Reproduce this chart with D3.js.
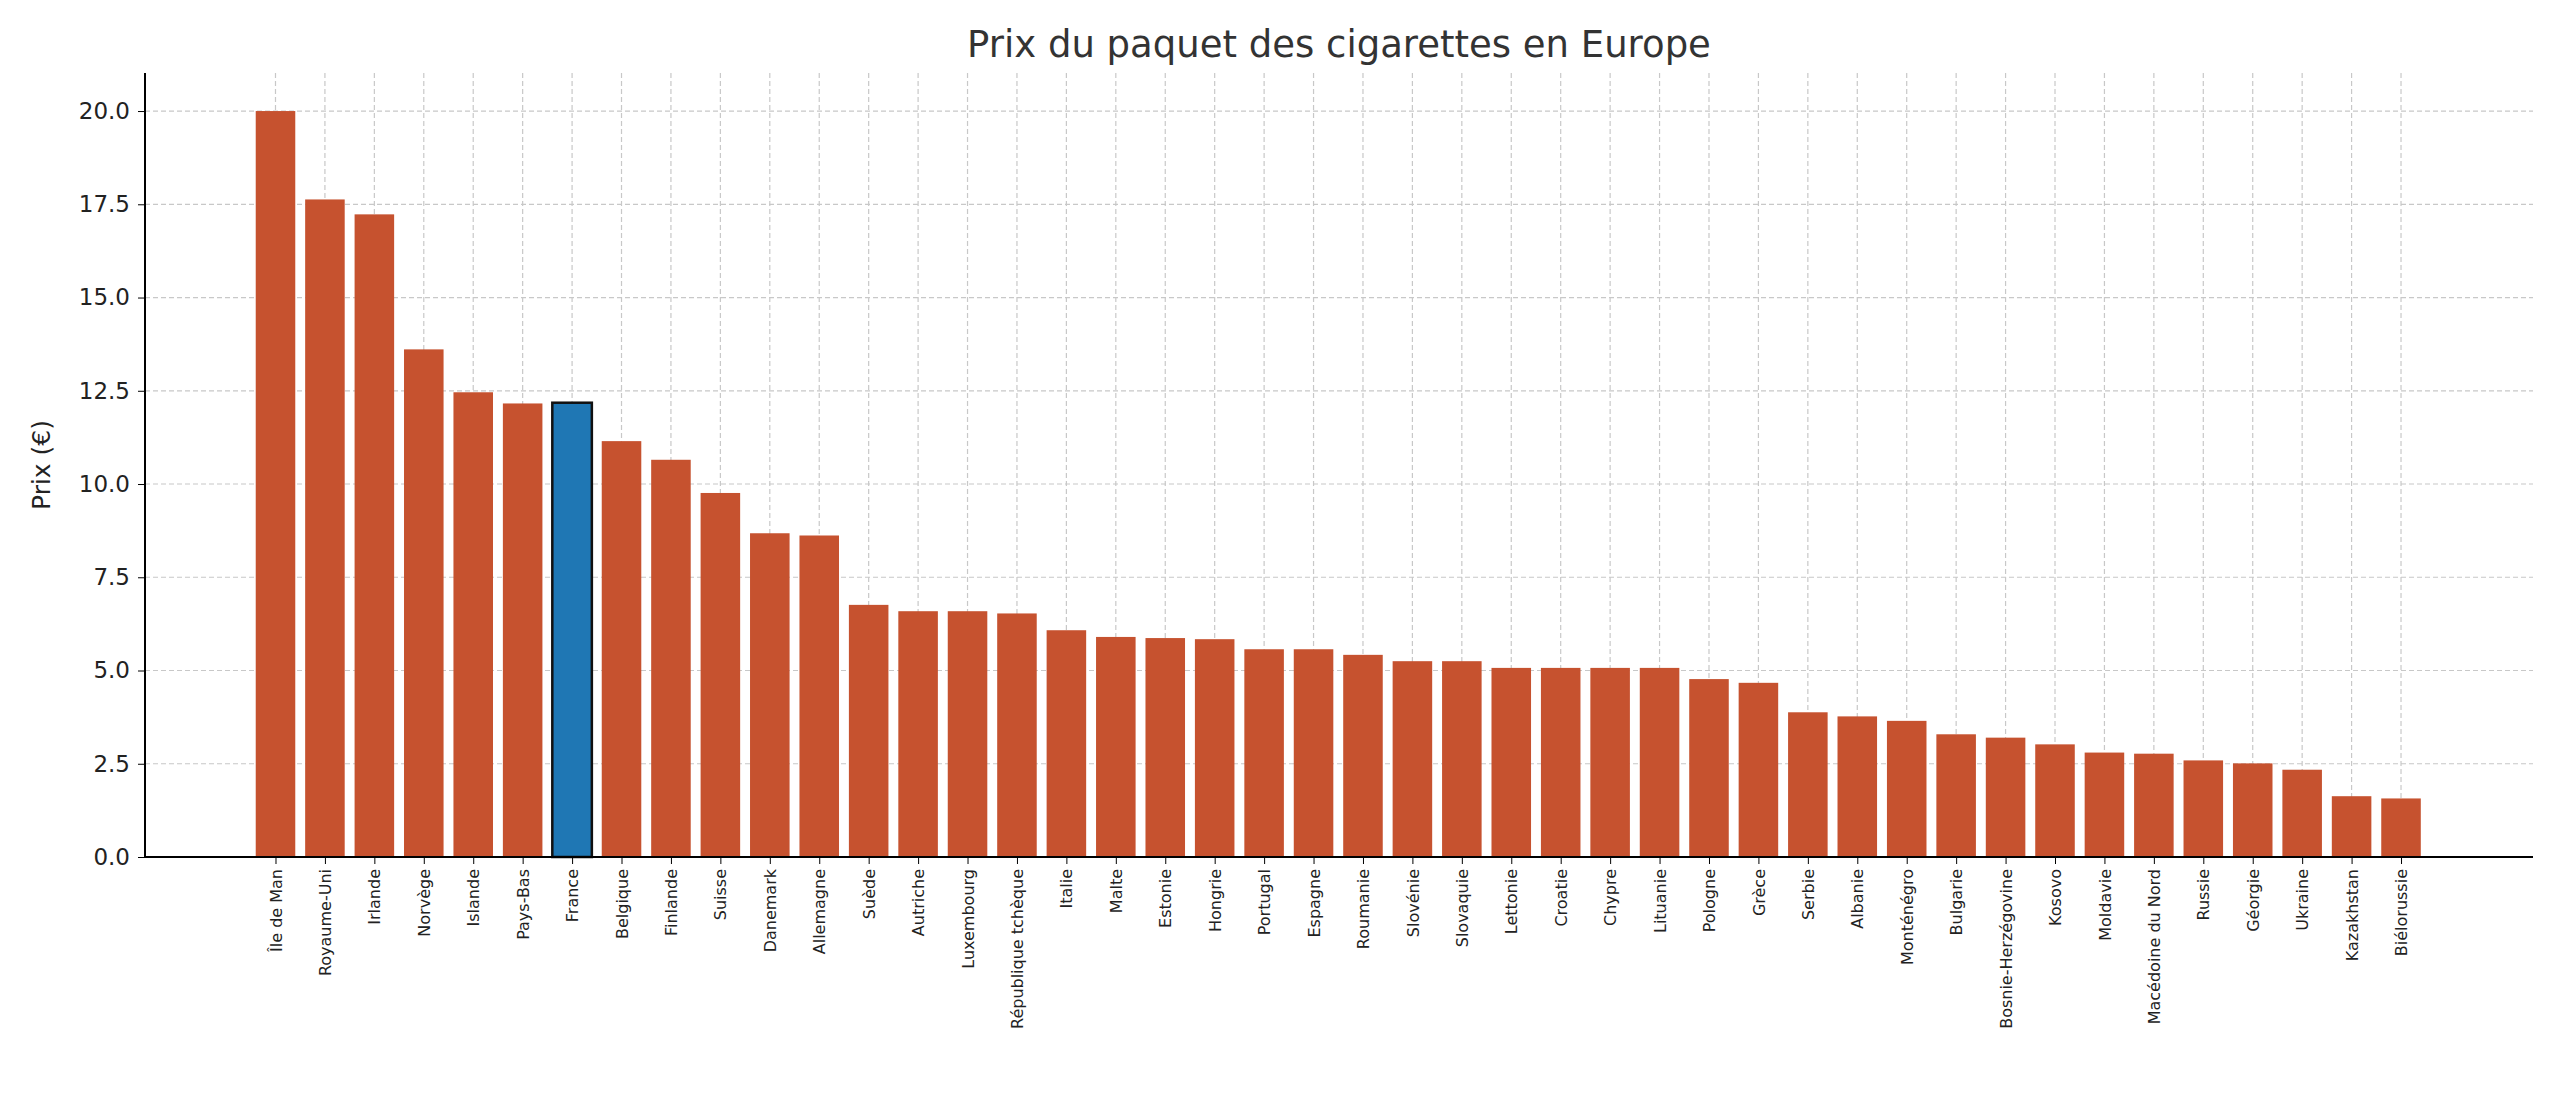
<!DOCTYPE html>
<html>
<head>
<meta charset="utf-8">
<script src="https://cdn.jsdelivr.net/npm/d3@7"></script>
<style>
  body { margin: 0; background: #fff; font-family: "DejaVu Sans", sans-serif; }
</style>
</head>
<body>
<div class="chart"></div>
<script>
// Data
const countries = ["Île de Man", "Royaume-Uni", "Irlande", "Norvège", "Islande", "Pays-Bas", "France",
    "Belgique", "Finlande", "Suisse", "Danemark", "Allemagne", "Suède", "Autriche", "Luxembourg",
    "République tchèque", "Italie", "Malte", "Estonie", "Hongrie", "Portugal", "Espagne", "Roumanie",
    "Slovénie", "Slovaquie", "Lettonie", "Croatie", "Chypre", "Lituanie", "Pologne", "Grèce", "Serbie",
    "Albanie", "Monténégro", "Bulgarie", "Bosnie-Herzégovine", "Kosovo", "Moldavie", "Macédoine du Nord",
    "Russie", "Géorgie", "Ukraine", "Kazakhstan", "Biélorussie"];
const prices = [20.0, 17.63, 17.23, 13.61, 12.46, 12.16, 12.18, 11.15, 10.65, 9.76, 8.68, 8.62, 6.76,
    6.59, 6.59, 6.53, 6.08, 5.90, 5.87, 5.84, 5.57, 5.57, 5.42, 5.25, 5.25, 5.07, 5.07, 5.07, 5.07,
    4.77, 4.67, 3.88, 3.77, 3.65, 3.29, 3.20, 3.02, 2.80, 2.77, 2.59, 2.51, 2.34, 1.63, 1.57];
const yTicks = [0, 2.5, 5, 7.5, 10, 12.5, 15, 17.5, 20];
const highlight = "France";

const W = 2560, H = 1097;
const margin = { top: 73, right: 27, bottom: 240, left: 145 };
const width = W - margin.left - margin.right;
const height = H - margin.top - margin.bottom;

const svg = d3.select(".chart").append("svg")
    .attr("width", W).attr("height", H);
const g = svg.append("g").attr("transform", `translate(${margin.left},${margin.top})`);

const x = d3.scaleLinear().domain([-2.64, countries.length - 1 + 2.67]).range([0, width]);
const step = x(1) - x(0);
const barW = step * 0.8;
const y = d3.scaleLinear().domain([0, 21.02]).range([height, 0]);

// Grid
g.append("g").selectAll("line").data(yTicks).enter().append("line")
    .attr("x1", 0).attr("x2", width)
    .attr("y1", d => y(d)).attr("y2", d => y(d))
    .attr("stroke", "#c8c8c8").attr("stroke-width", 1.2).attr("stroke-dasharray", "5,3");
g.append("g").selectAll("line").data(countries).enter().append("line")
    .attr("x1", (d, i) => x(i)).attr("x2", (d, i) => x(i))
    .attr("y1", 0).attr("y2", height)
    .attr("stroke", "#c8c8c8").attr("stroke-width", 1.2).attr("stroke-dasharray", "5,3");

// Bars
g.selectAll(".bar").data(countries).enter().append("rect")
    .attr("x", (d, i) => x(i) - barW / 2)
    .attr("y", (d, i) => y(prices[i]))
    .attr("width", barW)
    .attr("height", (d, i) => y(0) - y(prices[i]))
    .attr("fill", d => d === highlight ? "#1f77b4" : "#c6522f")
    .attr("stroke", d => d === highlight ? "#111" : "none")
    .attr("stroke-width", 2.5);

// Axes
const yAxis = g.append("g")
    .call(d3.axisLeft(y).tickValues(yTicks).tickFormat(d3.format(".1f")).tickSize(7).tickPadding(8));
yAxis.selectAll("text").attr("font-size", 23).attr("fill", "#222").attr("font-family", "DejaVu Sans");
yAxis.select(".domain").attr("stroke-width", 2).attr("d", `M0,${height}V0`);

const xAxis = g.append("g").attr("transform", `translate(0,${height})`)
    .call(d3.axisBottom(x).tickValues(d3.range(countries.length)).tickFormat(i => countries[i]).tickSize(7));
xAxis.select(".domain").attr("stroke-width", 2).attr("d", `M0,0H${width}`);
xAxis.selectAll("text")
    .attr("font-size", 16).attr("fill", "#222").attr("font-family", "DejaVu Sans")
    .attr("transform", "rotate(-90)")
    .attr("text-anchor", "end")
    .attr("x", -12).attr("y", 0).attr("dy", "0.35em");

// Labels
svg.append("text")
    .attr("x", margin.left + width / 2).attr("y", 57)
    .attr("text-anchor", "middle")
    .attr("font-size", 37).attr("fill", "#333")
    .text("Prix du paquet des cigarettes en Europe");

svg.append("text")
    .attr("transform", `translate(50,${margin.top + height / 2}) rotate(-90)`)
    .attr("text-anchor", "middle")
    .attr("font-size", 25).attr("fill", "#222")
    .text("Prix (€)");
</script>
</body>
</html>
